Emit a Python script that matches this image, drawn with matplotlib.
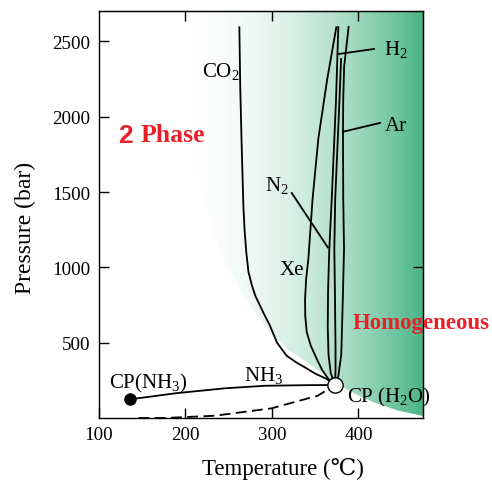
import numpy as np
import matplotlib
matplotlib.use('Agg')
import matplotlib.pyplot as plt
from matplotlib.path import Path
from matplotlib.patches import PathPatch
from matplotlib.colors import LinearSegmentedColormap

plt.rcParams['font.family'] = ['Liberation Serif', 'DejaVu Serif']
plt.rcParams['mathtext.fontset'] = 'custom'
plt.rcParams['mathtext.rm'] = 'Liberation Serif'

# --- dados (T em °C, P em bar) ---
co2_T = [373, 363.4, 350, 340, 328, 317, 306, 298, 291, 286.4, 281, 277, 273, 270.5, 268.5, 267.2, 265.2, 263.5, 262.5]
co2_P = [219, 259, 295, 330, 370, 414, 500, 611, 690, 746, 810, 880, 970, 1100, 1250, 1400, 1800, 2200, 2594]

xe_T = [373, 365.3, 358, 351.9, 345, 340.3, 338.6, 338.4, 339.6, 342.2, 347, 353.7, 364, 374.5]
xe_P = [219, 259, 320, 392, 480, 571, 680, 790, 920, 1056, 1450, 1853, 2250, 2594]

n2_T = [373, 368, 365.5, 364.6, 365, 366.4, 369.2, 374.2, 376.8]
n2_P = [219, 300, 420, 600, 850, 1122, 1454, 2118, 2596]

h2_T = [373, 373.6, 373.6, 373, 372.2, 373.2, 378.2, 380]
h2_P = [219, 320, 458, 790, 1122, 1454, 2118, 2384]

ar_T = [373, 376.8, 380.2, 382, 383.4, 382.5, 382.2, 382.5, 383.5, 388.7]
ar_P = [219, 279, 420, 790, 1122, 1454, 1899, 2118, 2330, 2596]

nh3_T = [136, 190, 245.6, 292, 340, 373]
nh3_P = [124, 165, 197, 214, 218, 219]

vap_T = [146, 176, 234, 299.5, 353, 373]
vap_P = [0, 0, 15, 64, 148, 219]

cp_h2o = (373, 219)
cp_nh3 = (136, 124)

# limite da região homogênea
bnd_T = [190, 195, 202, 215, 232, 247, 263, 282, 301, 320, 340, 360, 379, 398, 417, 445, 475]
bnd_P = [2700, 2300, 1900, 1550, 1235, 1030, 857, 690, 545, 450, 372, 290, 214, 155, 106, 50, 13]

fig = plt.figure(figsize=(4.92, 4.81), dpi=100)
ax = fig.add_axes([0.2006, 0.1289, 0.6598, 0.8455])
ax.set_xlim(100, 475)
ax.set_ylim(0, 2700)

# gradiente branco -> verde
cmap = LinearSegmentedColormap.from_list('g', ['#ffffff', '#48b585'])
xs = np.linspace(0, 1, 400)
grad = np.tile(np.clip((xs * 375 + 100 - 190) / 285, 0, 1) ** 2, (10, 1))
im = ax.imshow(grad, extent=[100, 475, 0, 2700], aspect='auto', cmap=cmap,
               vmin=0, vmax=1, origin='lower', zorder=0)
verts = list(zip(bnd_T, bnd_P)) + [(475, 0), (480, 0), (480, 2750), (190, 2750)]
clip = PathPatch(Path(verts), transform=ax.transData, facecolor='none', edgecolor='none')
ax.add_patch(clip)
im.set_clip_path(clip)

lw = 1.3
for T, P in [(co2_T, co2_P), (xe_T, xe_P), (n2_T, n2_P), (h2_T, h2_P), (ar_T, ar_P), (nh3_T, nh3_P)]:
    ax.plot(T, P, color='black', lw=lw, zorder=3)
ax.plot(vap_T, vap_P, color='black', lw=lw, ls=(0, (6, 3)), zorder=3)

ax.plot(*cp_h2o, 'o', ms=11, mfc='white', mec='black', mew=1, zorder=5)
ax.plot(*cp_nh3, 'o', ms=8, color='black', zorder=5)

# linhas indicadoras
ax.plot([377.5, 418], [2417, 2450], color='black', lw=lw)
ax.plot([382.6, 425], [1901, 1959], color='black', lw=lw)
ax.plot([323, 364.6], [1494, 1133], color='black', lw=lw)

fs = 15
ax.text(241.6, 2304, 'CO$_\\mathregular{2}$', fontsize=fs, ha='center', va='center')
ax.text(429.6, 2450, 'H$_\\mathregular{2}$', fontsize=fs, ha='left', va='center')
ax.text(430.8, 1945, 'Ar', fontsize=fs, ha='left', va='center')
ax.text(306, 1547, 'N$_\\mathregular{2}$', fontsize=fs, ha='center', va='center')
ax.text(323.5, 983, 'Xe', fontsize=fs, ha='center', va='center')
ax.text(290, 285, 'NH$_\\mathregular{3}$', fontsize=fs, ha='center', va='center')
ax.text(157, 239, 'CP(NH$_\\mathregular{3}$)', fontsize=fs, ha='center', va='center')
ax.text(387, 146, 'CP (H$_\\mathregular{2}$O)', fontsize=fs, ha='left', va='center')

red = '#e8202a'
ax.text(122, 1879, '2', fontsize=19, fontweight='bold', color=red,
        family='Liberation Sans', ha='left', va='center')
ax.text(148, 1879, 'Phase', fontsize=18.5, fontweight='bold', color=red, ha='left', va='center')
ax.text(393, 637, 'Homogeneous', fontsize=16.5, fontweight='bold', color=red,
        ha='left', va='center', clip_on=False, zorder=6)

ax.set_xticks([100, 200, 300, 400])
ax.set_yticks([500, 1000, 1500, 2000, 2500])
ax.tick_params(direction='in', length=7, width=1, labelsize=13.7, pad=6)
top = ax.secondary_xaxis('top')
top.set_xticks([200, 300, 400])
top.tick_params(direction='in', length=7, width=1, labeltop=False)
right = ax.secondary_yaxis('right')
right.set_yticks([1000])
right.tick_params(direction='in', length=7, width=1, labelright=False)

ax.set_xlabel('Temperature (\u2103)', fontsize=16.5, va='center')
ax.xaxis.set_label_coords(0.568, -0.123)
ax.set_ylabel('Pressure (bar)', fontsize=17, va='center')
ax.yaxis.set_label_coords(-0.227, 0.47)
for s in ax.spines.values():
    s.set_linewidth(1)

fig.savefig('out.png', dpi=100)
